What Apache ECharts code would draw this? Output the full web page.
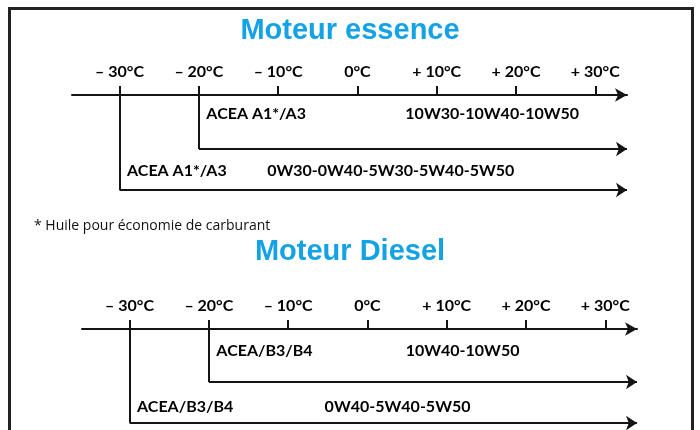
<!DOCTYPE html>
<html>
<head>
<meta charset="utf-8">
<script src="https://cdn.jsdelivr.net/npm/echarts@6/dist/echarts.min.js"></script>
<style>
html, body { margin: 0; padding: 0; background: #fff; }
#main { width: 700px; height: 430px; }
</style>
</head>
<body>
<div id="main"></div>
<script>
// graduations de température
var tickTemps = [-30, -20, -10, 0, 10, 20, 30];
var tickLabels = ['– 30°C', '– 20°C', '– 10°C', '0°C', '+ 10°C', '+ 20°C', '+ 30°C'];

// moteur essence : température mini, norme, viscosités
var essenceMin = [-20, -30];
var essenceNorm = ['ACEA A1*/A3', 'ACEA A1*/A3'];
var essenceGrade = ['10W30-10W40-10W50', '0W30-0W40-5W30-5W40-5W50'];

// moteur diesel
var dieselMin = [-20, -30];
var dieselNorm = ['ACEA/B3/B4', 'ACEA/B3/B4'];
var dieselGrade = ['10W40-10W50', '0W40-5W40-5W50'];

// mise en page (pas des données)
var X_MIN = -36, X_MAX = 34;
var INK = '#141414';
var TXT = '#000';
var FONT = 'Lato';
var panels = [
    { mins: essenceMin, norms: essenceNorm, grades: essenceGrade,
      top: 95, left: 72, rowY: [54, 95], textY: [19, 76], gradeX: [17, 4.2] },
    { mins: dieselMin, norms: dieselNorm, grades: dieselGrade,
      top: 329, left: 82, rowY: [53, 94], textY: [22, 78], gradeX: [12, 3.8] }
];

var grids = [], xAxes = [], yAxes = [], series = [];

panels.forEach(function (p, i) {
    grids.push({ left: p.left, top: p.top, width: 555, height: 95 });
    xAxes.push({
        gridIndex: i, type: 'value', min: X_MIN, max: X_MAX, position: 'top',
        axisLine: { show: true, onZero: false, symbol: ['none', 'arrow'], symbolSize: [10, 12],
            lineStyle: { color: INK, width: 2 } },
        axisTick: { show: true, customValues: tickTemps, length: 9,
            lineStyle: { color: INK, width: 2 } },
        axisLabel: { customValues: tickTemps, margin: 15, color: TXT,
            fontFamily: FONT, fontWeight: 'bold', fontSize: 16,
            formatter: function (v) { return tickLabels[tickTemps.indexOf(v)]; } },
        splitLine: { show: false }
    });
    yAxes.push({ gridIndex: i, type: 'value', min: 0, max: 95, inverse: true, show: false });

    // traits verticaux depuis la température mini
    series.push({
        type: 'lines', coordinateSystem: 'cartesian2d', xAxisIndex: i, yAxisIndex: i,
        silent: true, clip: false, symbol: 'none',
        lineStyle: { color: INK, width: 2, opacity: 1 },
        data: p.mins.map(function (t, k) { return { coords: [[t, 0], [t, p.rowY[k]]] }; })
    });
    // flèches horizontales
    series.push({
        type: 'lines', coordinateSystem: 'cartesian2d', xAxisIndex: i, yAxisIndex: i,
        silent: true, clip: false, symbol: ['none', 'arrow'], symbolSize: 11,
        lineStyle: { color: INK, width: 2, opacity: 1 },
        data: p.mins.map(function (t, k) { return { coords: [[t, p.rowY[k]], [X_MAX, p.rowY[k]]] }; })
    });
    // normes ACEA
    series.push({
        type: 'scatter', xAxisIndex: i, yAxisIndex: i, silent: true, clip: false,
        symbolSize: 1, itemStyle: { color: 'rgba(0,0,0,0)', opacity: 1 },
        label: { show: true, position: 'right', distance: 7, color: TXT,
            fontFamily: FONT, fontWeight: 'bold', fontSize: 16,
            formatter: function (d) { return d.data[2]; } },
        data: p.mins.map(function (t, k) { return [t, p.textY[k], p.norms[k]]; })
    });
    // viscosités
    series.push({
        type: 'scatter', xAxisIndex: i, yAxisIndex: i, silent: true, clip: false,
        symbolSize: 1, itemStyle: { color: 'rgba(0,0,0,0)', opacity: 1 },
        label: { show: true, position: 'inside', color: TXT,
            fontFamily: FONT, fontWeight: 'bold', fontSize: 16,
            formatter: function (d) { return d.data[2]; } },
        data: p.grades.map(function (g, k) { return [p.gradeX[k], p.textY[k], g]; })
    });
});

var chart = echarts.init(document.getElementById('main'), null, { renderer: 'canvas' });
chart.setOption({
    animation: false,
    backgroundColor: '#fff',
    title: [
        { text: 'Moteur essence', left: 'center', top: 11,
          textStyle: { color: '#13a2e6', fontFamily: 'Liberation Sans', fontWeight: 'bold', fontSize: 29 } },
        { text: 'Moteur Diesel', left: 'center', top: 232,
          textStyle: { color: '#13a2e6', fontFamily: 'Liberation Sans', fontWeight: 'bold', fontSize: 29 } },
        { text: '* Huile pour économie de carburant', left: 29, top: 214,
          textStyle: { color: '#111', fontFamily: 'Open Sans', fontWeight: 'normal', fontSize: 14 } }
    ],
    graphic: [{
        type: 'rect', silent: true,
        shape: { x: 9.5, y: 8.5, width: 683, height: 440 },
        style: { fill: 'none', stroke: '#222', lineWidth: 3 }
    }],
    grid: grids,
    xAxis: xAxes,
    yAxis: yAxes,
    series: series
});
</script>
</body>
</html>
